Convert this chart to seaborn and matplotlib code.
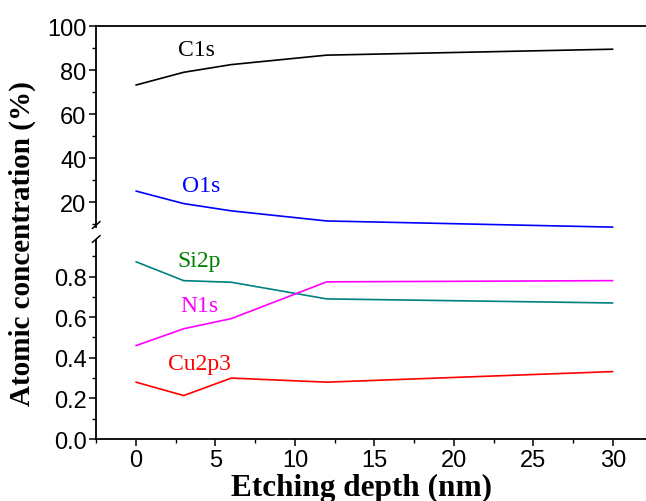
import numpy as np
import pandas as pd
import matplotlib
matplotlib.use("Agg")
import matplotlib.pyplot as plt
import seaborn as sns

depth = [0, 3, 6, 12, 30]
c1s = [73.2, 79.0, 82.5, 86.8, 89.5]
o1s = [25.0, 19.3, 16.0, 11.4, 8.6]
si2p = [0.873, 0.780, 0.772, 0.690, 0.670]
n1s = [0.460, 0.543, 0.593, 0.774, 0.780]
cu2p3 = [0.280, 0.214, 0.300, 0.280, 0.332]

high_names = ["C1s", "O1s"]
low_names = ["Si2p", "N1s", "Cu2p3"]
line_colors = {"C1s": "#000000", "O1s": "#0000ff", "Si2p": "#008080",
               "N1s": "#ff00ff", "Cu2p3": "#ff0000"}
label_colors = {"C1s": "#000000", "O1s": "#0000ff", "Si2p": "#008000",
                "N1s": "#ff00ff", "Cu2p3": "#ff0000"}

rows = []
for name, vals in zip(high_names + low_names, [c1s, o1s, si2p, n1s, cu2p3]):
    for d, v in zip(depth, vals):
        rows.append({"depth": d, "value": v, "element": name})
df = pd.DataFrame(rows)

sns.set_style("ticks", {"axes.edgecolor": "black", "text.color": "black",
                        "xtick.color": "black", "ytick.color": "black"})
plt.rcParams["font.family"] = ["Liberation Sans", "DejaVu Sans"]

fig = plt.figure(figsize=(6.46, 5.02), dpi=100)
left, width = 0.149, 0.861
ax_lo = fig.add_axes([left, 0.1235, width, 0.4085])
ax_hi = fig.add_axes([left, 0.532, width, 0.414], sharex=ax_lo)

sns.lineplot(data=df[df.element.isin(low_names)], x="depth", y="value",
             hue="element", palette=line_colors, ax=ax_lo, legend=False,
             linewidth=1.2)
sns.lineplot(data=df[df.element.isin(high_names)], x="depth", y="value",
             hue="element", palette=line_colors, ax=ax_hi, legend=False,
             linewidth=1.2)

ax_lo.set_xlim(-2.5, 32.5)
ax_lo.set_ylim(0, 1.01)
ax_hi.set_ylim(5.5, 100)

ax_lo.set_xticks([0, 5, 10, 15, 20, 25, 30])
ax_lo.set_xticks(np.arange(-2.5, 32.6, 5), minor=True)
ax_lo.set_yticks([0.0, 0.2, 0.4, 0.6, 0.8])
ax_lo.set_yticklabels(["0.0", "0.2", "0.4", "0.6", "0.8"])
ax_lo.set_yticks(np.arange(0.1, 1.0, 0.2), minor=True)
ax_hi.set_yticks([20, 40, 60, 80, 100])
ax_hi.set_yticks([10, 30, 50, 70, 90], minor=True)

for ax in (ax_lo, ax_hi):
    ax.spines["right"].set_visible(False)
    ax.spines["left"].set_linewidth(1.3)
    ax.tick_params(axis="both", which="major", direction="out", length=5,
                   width=1.1, labelsize=17, pad=2, colors="black")
    ax.tick_params(axis="both", which="minor", direction="out", length=3,
                   width=1.0, colors="black")
    ax.set_xlabel("")
    ax.set_ylabel("")
    ax.patch.set_alpha(0)

ax_lo.spines["top"].set_visible(False)
ax_lo.spines["bottom"].set_linewidth(1.3)
ax_hi.spines["bottom"].set_visible(False)
ax_hi.spines["top"].set_linewidth(1.3)
ax_hi.tick_params(axis="x", which="both", bottom=False, labelbottom=False)

# gap in the left spine with break slashes
ax_lo.spines["left"].set_bounds(0, 0.98)
ax_hi.spines["left"].set_bounds(8.5, 100)
for yf in (226 / 502, 240 / 502):
    y = 1 - yf
    fig.add_artist(plt.Line2D([left - 0.006, left + 0.006], [y - 0.007, y + 0.007],
                              color="black", lw=1.1, transform=fig.transFigure))

# series labels
tfont = dict(family=["Liberation Serif", "DejaVu Serif"], fontsize=17,
             ha="center", va="center")
ax_hi.text(3.8, 89.5, "C1s", color=label_colors["C1s"], **tfont)
ax_hi.text(4.1, 27.3, "O1s", color=label_colors["O1s"], **tfont)
ax_lo.text(4.0, 0.88, "Si2p", color=label_colors["Si2p"], **tfont)
ax_lo.text(4.0, 0.657, "N1s", color=label_colors["N1s"], **tfont)
ax_lo.text(4.0, 0.37, "Cu2p3", color=label_colors["Cu2p3"], **tfont)

lfont = dict(family=["Liberation Serif", "DejaVu Serif"],
             fontweight="bold", color="black")
fig.text(0.035, 0.514, "Atomic concentration (%)", rotation=90, fontsize=21,
         ha="center", va="center", **lfont)
fig.text(0.56, 0.027, "Etching depth (nm)", fontsize=22.5,
         ha="center", va="center", **lfont)

fig.savefig("out.png", dpi=100)
